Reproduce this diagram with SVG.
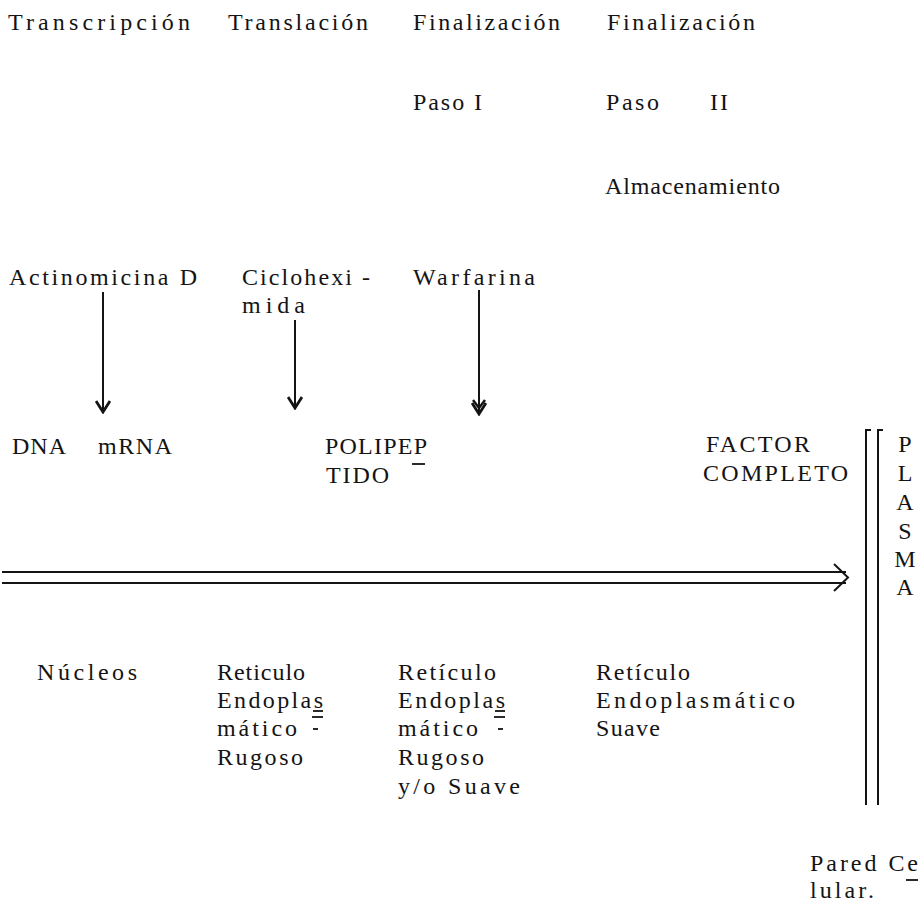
<svg xmlns="http://www.w3.org/2000/svg" width="923" height="905" viewBox="0 0 923 905">
<style>
text{font-family:"Liberation Serif","DejaVu Serif",serif;font-size:24px;fill:#141414;}
.ln{stroke:#141414;stroke-width:2;fill:none;}
.thin{stroke:#141414;stroke-width:1.8;fill:none;}
</style>
<defs>
<marker id="v" viewBox="0 0 14 16" refX="12" refY="8" markerWidth="14" markerHeight="16" markerUnits="userSpaceOnUse" orient="auto">
<path d="M1,1 L12,8 L1,15" fill="none" stroke="#141414" stroke-width="2.8"/>
</marker>
</defs>
<rect width="923" height="905" fill="#ffffff"/>
<g id="stages">
<text x="8" y="30" textLength="182" lengthAdjust="spacing">Transcripción</text>
<text x="228" y="30" textLength="140" lengthAdjust="spacing">Translación</text>
<text x="413" y="30" textLength="147" lengthAdjust="spacing">Finalización</text>
<text x="607" y="30" textLength="148" lengthAdjust="spacing">Finalización</text>
<text x="413" y="110" textLength="69" lengthAdjust="spacing">Paso I</text>
<text x="606" y="110" textLength="53" lengthAdjust="spacing">Paso</text>
<text x="710" y="110" textLength="18" lengthAdjust="spacing">II</text>
<text x="605" y="194" textLength="175" lengthAdjust="spacing">Almacenamiento</text>
</g>
<g id="inhibitors">
<text x="9" y="285" textLength="188" lengthAdjust="spacing">Actinomicina D</text>
<text x="242" y="285" textLength="128" lengthAdjust="spacing">Ciclohexi -</text>
<text x="242" y="313" textLength="63" lengthAdjust="spacing">mida</text>
<text x="413" y="285" textLength="122" lengthAdjust="spacing">Warfarina</text>
</g>
<g id="products">
<text x="12" y="454" textLength="54" lengthAdjust="spacing">DNA</text>
<text x="98" y="454" textLength="74" lengthAdjust="spacing">mRNA</text>
<text x="325" y="454" textLength="102" lengthAdjust="spacing">POLIPEP</text>
<text x="326" y="483" textLength="63" lengthAdjust="spacing">TIDO</text>
<line class="thin" x1="412" y1="464" x2="425" y2="464"/>
<text x="706" y="452" textLength="104" lengthAdjust="spacing">FACTOR</text>
<text x="703" y="481" textLength="145" lengthAdjust="spacing">COMPLETO</text>
</g>
<g id="plasma">
<text x="905" y="452" text-anchor="middle">P</text>
<text x="905" y="481" text-anchor="middle">L</text>
<text x="905" y="510" text-anchor="middle">A</text>
<text x="905" y="539" text-anchor="middle">S</text>
<text x="905" y="567" text-anchor="middle">M</text>
<text x="905" y="595" text-anchor="middle">A</text>
</g>
<g id="wall">
<path class="ln" d="M871,430 L866,430 L866,805"/>
<path class="ln" d="M883,430 L878,430 L878,805"/>
<text x="810" y="871" textLength="108" lengthAdjust="spacing">Pared Ce</text>
<line class="thin" x1="906" y1="880" x2="918" y2="880"/>
<text x="810" y="898" textLength="64" lengthAdjust="spacing">lular.</text>
</g>
<g id="locations">
<text x="37" y="680" textLength="100" lengthAdjust="spacing">Núcleos</text>
<text x="217" y="680" textLength="88" lengthAdjust="spacing">Reticulo</text>
<text x="217" y="708" textLength="106" lengthAdjust="spacing">Endoplas</text>
<line class="thin" x1="313" y1="711" x2="323" y2="711"/>
<text x="217" y="736" textLength="80" lengthAdjust="spacing">mático</text>
<line class="thin" x1="312" y1="717" x2="323" y2="717"/>
<line class="thin" x1="313" y1="729" x2="318" y2="729"/>
<text x="217" y="765" textLength="86" lengthAdjust="spacing">Rugoso</text>
<text x="398" y="680" textLength="98" lengthAdjust="spacing">Retículo</text>
<text x="398" y="708" textLength="107" lengthAdjust="spacing">Endoplas</text>
<line class="thin" x1="495" y1="711" x2="505" y2="711"/>
<text x="398" y="736" textLength="80" lengthAdjust="spacing">mático</text>
<line class="thin" x1="494" y1="717" x2="505" y2="717"/>
<line class="thin" x1="498" y1="729" x2="503" y2="729"/>
<text x="398" y="765" textLength="86" lengthAdjust="spacing">Rugoso</text>
<text x="398" y="794" textLength="122" lengthAdjust="spacing">y/o Suave</text>
<text x="596" y="680" textLength="94" lengthAdjust="spacing">Retículo</text>
<text x="596" y="708" textLength="199" lengthAdjust="spacing">Endoplasmático</text>
<text x="596" y="736" textLength="64" lengthAdjust="spacing">Suave</text>
</g>
<g id="connectors">
<line class="ln" x1="103" y1="292" x2="103" y2="412" marker-end="url(#v)"/>
<line class="ln" x1="295" y1="320" x2="295" y2="408" marker-end="url(#v)"/>
<line class="ln" x1="479" y1="290" x2="479" y2="414" marker-end="url(#v)"/>
<path d="M473,400 L479,408 L485,400" fill="none" stroke="#141414" stroke-width="2.4"/>
<line class="ln" x1="2" y1="572" x2="846" y2="572"/>
<line class="ln" x1="2" y1="583" x2="846" y2="583"/>
<path class="ln" d="M834,564 L848,577.5 L834,591"/>
</g>
</svg>
